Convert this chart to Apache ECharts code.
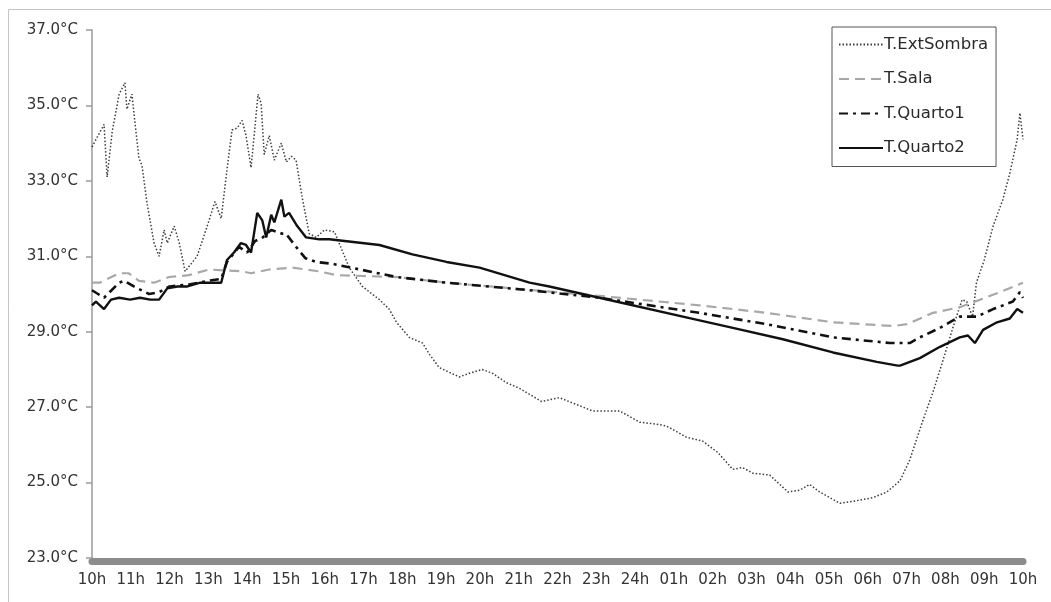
<!DOCTYPE html>
<html>
<head>
<meta charset="utf-8">
<script src="https://cdn.jsdelivr.net/npm/echarts@6/dist/echarts.min.js"></script>
<style>
  html, body { margin: 0; padding: 0; background: #fff; }
  #chart { width: 1051px; height: 602px; }
</style>
</head>
<body>
<div id="chart"></div>
<script>
// tick labels for the x axis (hours from 10h to 10h next day)
const hourLabels = ["10h","11h","12h","13h","14h","15h","16h","17h","18h","19h","20h","21h","22h","23h","24h",
  "01h","02h","03h","04h","05h","06h","07h","08h","09h","10h"];

// hours since 10h / temperature readings
const extHours = [0,0.26,0.31,0.39,0.52,0.70,0.85,0.90,1.03,1.08,1.21,1.29,1.42,1.60,1.73,1.86,1.94,2.12,2.25,2.40,
  2.71,2.97,3.17,3.33,3.48,3.61,3.74,3.87,3.97,4.10,4.18,4.28,4.36,4.44,4.57,4.70,4.88,5.01,5.14,5.26,5.42,5.60,
  5.78,5.99,6.25,6.45,6.63,6.97,7.41,7.66,7.85,8.18,8.52,8.70,8.95,9.47,9.73,10.06,10.32,10.68,11.02,11.59,12.05,
  12.90,13.60,14.12,14.55,14.81,15.33,15.74,16.13,16.52,16.77,17.03,17.47,17.94,18.25,18.50,18.76,19.28,19.61,
  20.13,20.49,20.83,21.08,21.42,21.68,21.94,22.19,22.43,22.55,22.70,22.80,23.00,23.23,23.48,23.66,23.85,23.92,24];
const extTemps = [33.9,34.4,34.5,33.1,34.3,35.3,35.6,34.9,35.3,34.8,33.6,33.4,32.4,31.35,31.0,31.7,31.35,31.8,31.35,30.6,
  31.0,31.8,32.45,32.0,33.3,34.35,34.4,34.6,34.2,33.35,34.2,35.3,35.05,33.7,34.2,33.55,34.0,33.5,33.65,33.55,32.55,31.6,
  31.5,31.7,31.65,31.15,30.7,30.2,29.85,29.6,29.25,28.85,28.7,28.4,28.05,27.8,27.9,28.0,27.9,27.65,27.5,27.15,27.25,
  26.9,26.9,26.6,26.55,26.5,26.2,26.1,25.8,25.35,25.4,25.25,25.2,24.75,24.8,24.95,24.75,24.45,24.5,
  24.6,24.75,25.05,25.6,26.65,27.4,28.25,29.1,29.85,29.8,29.4,30.3,30.9,31.8,32.5,33.2,34.1,34.8,34.1];

const salaHours = [0,0.2,0.7,0.95,1.21,1.6,1.99,2.5,3.02,3.87,4.1,4.57,5.16,5.86,6.3,7.85,9.14,10.84,13.08,15.66,
  17.39,19.1,20.65,21.01,21.68,22.37,22.89,23.41,24];
const salaTemps = [30.3,30.3,30.55,30.55,30.35,30.3,30.45,30.5,30.65,30.6,30.55,30.65,30.7,30.6,30.5,30.45,30.3,30.15,29.95,29.7,
  29.5,29.25,29.15,29.2,29.5,29.65,29.85,30.05,30.3];

const q1Hours = [0,0.31,0.7,0.83,1.08,1.47,1.73,2.0,2.5,3.0,3.33,3.48,3.79,4.0,4.2,4.4,4.62,4.9,5.0,5.26,5.5,5.78,6.2,
  7.85,9.14,11.28,13.08,15.66,17.39,19.1,20.57,21.08,21.34,21.86,22.37,22.81,23.23,23.74,23.92,24];
const q1Temps = [30.1,29.9,30.3,30.35,30.2,30.0,30.05,30.2,30.25,30.35,30.4,30.85,31.25,31.1,31.4,31.5,31.7,31.6,31.6,31.25,30.95,30.85,30.8,
  30.45,30.3,30.1,29.9,29.5,29.2,28.85,28.7,28.7,28.85,29.1,29.4,29.4,29.6,29.8,30.05,29.9];

const q2Hours = [0,0.1,0.31,0.49,0.7,0.98,1.24,1.5,1.73,1.94,2.2,2.46,2.79,3.15,3.33,3.48,3.66,3.84,3.97,4.10,4.26,4.39,
  4.49,4.62,4.70,4.88,4.96,5.08,5.29,5.52,5.86,6.12,7.41,8.26,9.14,9.99,11.28,11.79,13.08,15.66,16.52,17.81,19.10,
  20.23,20.77,20.83,21.34,21.86,22.37,22.58,22.76,22.97,23.33,23.66,23.85,24];
const q2Temps = [29.7,29.8,29.6,29.85,29.9,29.85,29.9,29.85,29.85,30.15,30.2,30.2,30.3,30.3,30.3,30.9,31.1,31.35,31.3,31.1,32.15,31.95,
  31.5,32.1,31.9,32.5,32.05,32.15,31.8,31.5,31.45,31.45,31.3,31.05,30.85,30.7,30.3,30.2,29.9,29.3,29.1,28.8,28.45,
  28.2,28.1,28.1,28.3,28.6,28.85,28.9,28.7,29.05,29.25,29.35,29.6,29.5];

const pairs = (hs, ts) => hs.map((h, i) => [h, ts[i]]);

const chart = echarts.init(document.getElementById("chart"));
const font = "DejaVu Sans";

chart.setOption({
  animation: false,
  backgroundColor: "#fff",
  grid: { left: 92, right: 28, top: 30, bottom: 44 },
  graphic: [{
    type: "rect",
    shape: { x: 8.5, y: 9.5, width: 1200, height: 800 },
    style: { fill: "none", stroke: "#c4c4c4", lineWidth: 1 },
    silent: true
  }],
  legend: {
    orient: "vertical",
    left: 832,
    top: 27,
    padding: [9, 8, 10, 6],
    itemWidth: 44,
    itemHeight: 14,
    itemGap: 17.5,
    borderColor: "#555",
    borderWidth: 1,
    backgroundColor: "#fff",
    itemStyle: { opacity: 0 },
    textStyle: { fontFamily: font, fontSize: 16.5, color: "#2a2a2a", padding: [0, 0, 0, -4] },
    data: ["T.ExtSombra", "T.Sala", "T.Quarto1", "T.Quarto2"]
  },
  xAxis: {
    type: "value",
    min: 0,
    max: 24,
    interval: 1,
    offset: 3.5,
    axisLine: { lineStyle: { color: "#8c8c8c", width: 7 } },
    axisTick: { show: false },
    splitLine: { show: false },
    axisLabel: {
      margin: 11,
      fontFamily: font,
      fontSize: 15,
      color: "#333",
      formatter: (v) => hourLabels[v] || ""
    }
  },
  yAxis: {
    type: "value",
    min: 23,
    max: 37,
    interval: 2,
    axisLine: { show: true, lineStyle: { color: "#9a9a9a", width: 1.5 } },
    axisTick: { show: true, length: 6, lineStyle: { color: "#9a9a9a", width: 1.5 } },
    splitLine: { show: false },
    axisLabel: {
      margin: 14,
      fontFamily: font,
      fontSize: 15,
      color: "#333",
      formatter: (v) => v.toFixed(1) + "°C"
    }
  },
  series: [
    {
      name: "T.ExtSombra",
      type: "line",
      symbol: "none",
      data: pairs(extHours, extTemps),
      lineStyle: { color: "#3c3c3c", width: 1.5, type: [1.5, 2] },
      itemStyle: { color: "#3c3c3c" }
    },
    {
      name: "T.Sala",
      type: "line",
      symbol: "none",
      data: pairs(salaHours, salaTemps),
      lineStyle: { color: "#a8a8a8", width: 2.2, type: [10, 6] },
      itemStyle: { color: "#a8a8a8" }
    },
    {
      name: "T.Quarto1",
      type: "line",
      symbol: "none",
      data: pairs(q1Hours, q1Temps),
      lineStyle: { color: "#111", width: 2.6, type: [9, 5, 3, 5] },
      itemStyle: { color: "#111" }
    },
    {
      name: "T.Quarto2",
      type: "line",
      symbol: "none",
      data: pairs(q2Hours, q2Temps),
      lineStyle: { color: "#111", width: 2.4 },
      itemStyle: { color: "#111" }
    }
  ]
});
</script>
</body>
</html>
